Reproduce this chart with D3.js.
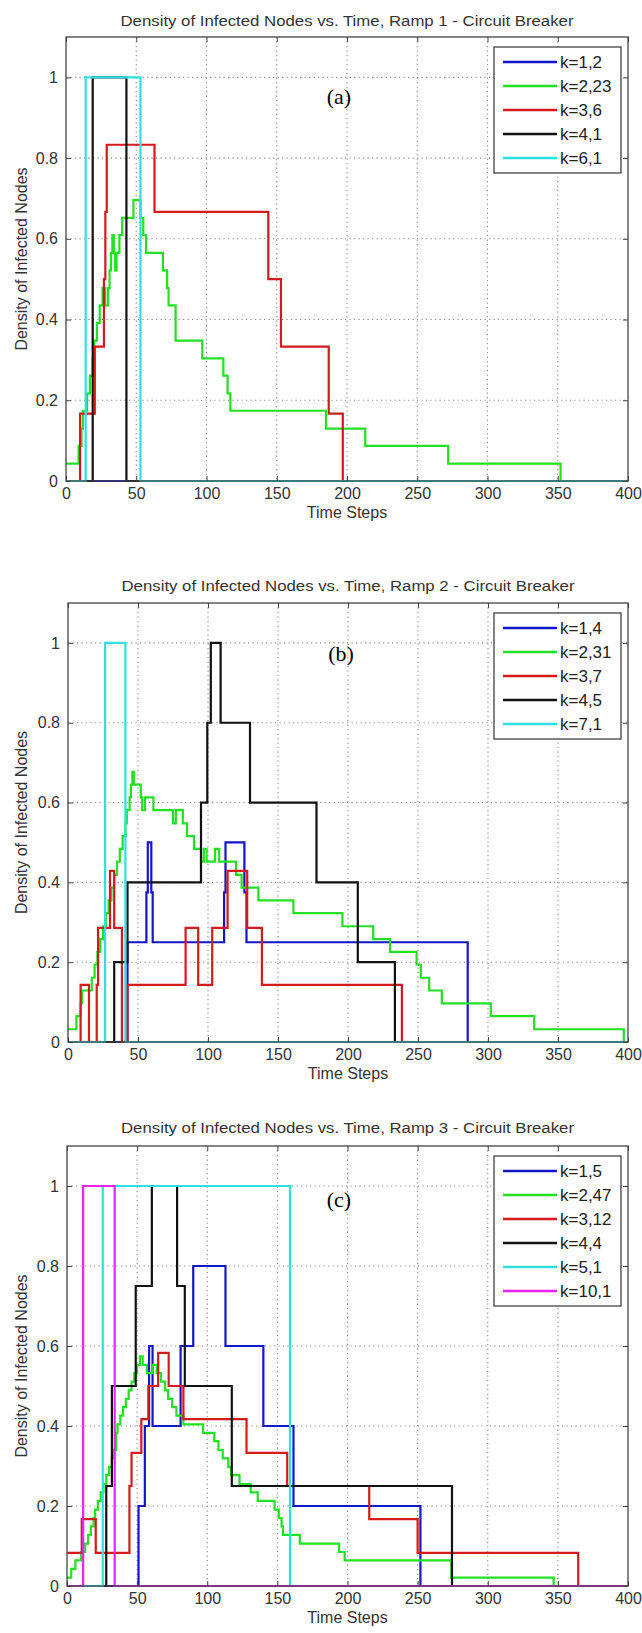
<!DOCTYPE html>
<html>
<head>
<meta charset="utf-8">
<script src="https://cdn.jsdelivr.net/npm/d3@7"></script>
<style>
	body { margin: 0; background: #fff; }
	svg { display: block; font-family: "Liberation Sans", Arial, sans-serif; }
</style>
</head>
<body>
<div id="figure"></div>
<script>
// ---- values: [time step, density] break points (value holds until next point) ----
const xTicks = [0, 50, 100, 150, 200, 250, 300, 350, 400];
const yTicks = [0, 0.2, 0.4, 0.6, 0.8, 1];

// Ramp 1
const ramp1Labels = ['k=1,2', 'k=2,23', 'k=3,6', 'k=4,1', 'k=6,1'];
const ramp1K1 = [[0, 0], [400, 0]];
const ramp1K2 = [[0, 0.043], [9, 0.087], [11, 0.13], [12, 0.174], [15, 0.217], [17, 0.261], [19, 0.304], [20, 0.348],
	[22, 0.391], [24, 0.435], [26, 0.478], [28, 0.435], [30, 0.478], [31, 0.522], [32, 0.565], [33, 0.609], [34, 0.565],
	[35, 0.522], [36, 0.565], [38, 0.609], [40, 0.652], [48, 0.696], [53, 0.652], [55, 0.609], [57, 0.565], [69, 0.522],
	[72, 0.478], [73, 0.435], [78, 0.348], [97, 0.304], [112, 0.261], [115, 0.217], [117, 0.174], [185, 0.13],
	[213, 0.087], [272, 0.043], [352, 0], [400, 0]];
const ramp1K3 = [[0, 0], [10, 0.167], [20.5, 0.333], [27, 0.5], [28, 0.667], [29, 0.833], [63, 0.667], [144, 0.5],
	[153, 0.333], [187, 0.167], [197, 0], [400, 0]];
const ramp1K4 = [[0, 0], [19, 1], [43, 0], [400, 0]];
const ramp1K6 = [[0, 0], [14, 1], [53, 0], [400, 0]];

// Ramp 2
const ramp2Labels = ['k=1,4', 'k=2,31', 'k=3,7', 'k=4,5', 'k=7,1'];
const ramp2K1 = [[0, 0], [42.5, 0.25], [56, 0.375], [57, 0.5], [59.5, 0.375], [60.5, 0.25], [111.5, 0.375], [112.5, 0.5],
	[126, 0.375], [127.5, 0.25], [285.5, 0], [400, 0]];
const ramp2K2 = [[0, 0.032], [6, 0.065], [9, 0.097], [10, 0.129], [17, 0.161], [19, 0.194], [21, 0.226], [23, 0.258],
	[25, 0.29], [27, 0.323], [29, 0.355], [31, 0.387], [33, 0.419], [35, 0.452], [37, 0.484], [39, 0.516], [41, 0.548],
	[42, 0.581], [44, 0.613], [45, 0.645], [46, 0.677], [47, 0.645], [52, 0.613], [53, 0.581], [55, 0.613], [61, 0.581],
	[75, 0.548], [77, 0.581], [82, 0.548], [85, 0.516], [90, 0.484], [95, 0.452], [97, 0.484], [99, 0.452], [105, 0.484],
	[108, 0.452], [120, 0.419], [124, 0.387], [136, 0.355], [161, 0.323], [196, 0.29], [218, 0.258], [230, 0.226],
	[249, 0.194], [252, 0.161], [258, 0.129], [267, 0.097], [302, 0.065], [333, 0.032], [397, 0], [400, 0]];
const ramp2K3 = [[0, 0], [9, 0.143], [15, 0], [20.5, 0.143], [21.5, 0.286], [30, 0.429], [33, 0.286], [38.5, 0],
	[42.5, 0.143], [84, 0.286], [93, 0.143], [103, 0.286], [114, 0.429], [128, 0.286], [138.5, 0.143], [238.5, 0], [400, 0]];
const ramp2K4 = [[0, 0], [33, 0.2], [42.5, 0.4], [95, 0.6], [99.5, 0.8], [102, 1], [109, 0.8], [130, 0.6], [177.5, 0.4],
	[207, 0.2], [233.5, 0], [400, 0]];
const ramp2K7 = [[0, 0], [26.5, 1], [41, 0], [400, 0]];

// Ramp 3
const ramp3Labels = ['k=1,5', 'k=2,47', 'k=3,12', 'k=4,4', 'k=5,1', 'k=10,1'];
const ramp3K1 = [[0, 0], [51, 0.2], [55.5, 0.4], [58.5, 0.6], [61, 0.4], [81, 0.6], [90, 0.8], [113, 0.6], [140, 0.4],
	[161.5, 0.2], [252, 0], [400, 0]];
const ramp3K2 = [[0, 0.021], [3, 0.043], [6, 0.064], [10, 0.085], [13, 0.106], [15, 0.128], [17, 0.149], [19, 0.17],
	[20, 0.191], [22, 0.213], [24, 0.234], [26, 0.255], [28, 0.277], [30, 0.298], [32, 0.319], [33, 0.34], [35, 0.383],
	[36, 0.404], [38, 0.426], [40, 0.447], [42, 0.468], [44, 0.489], [46, 0.511], [48, 0.532], [50, 0.553], [52, 0.574],
	[54, 0.553], [57, 0.532], [61, 0.553], [64, 0.532], [67, 0.511], [70, 0.489], [72, 0.468], [75, 0.447], [78, 0.426],
	[83, 0.404], [97, 0.383], [105, 0.362], [108, 0.34], [111, 0.319], [115, 0.298], [117, 0.277], [123, 0.255],
	[131, 0.234], [136, 0.213], [148, 0.191], [151, 0.17], [153, 0.149], [154, 0.128], [166, 0.106], [194, 0.085],
	[198, 0.064], [274, 0.021], [347, 0], [400, 0]];
const ramp3K3 = [[0, 0.083], [10.5, 0.167], [20.5, 0.083], [44.5, 0.25], [46, 0.333], [53, 0.417], [58, 0.5], [65, 0.583],
	[72.5, 0.5], [83, 0.417], [128, 0.333], [157, 0.25], [215.5, 0.167], [250, 0.083], [364.5, 0], [400, 0]];
const ramp3K4 = [[0, 0], [28, 0.25], [32, 0.5], [49, 0.75], [60.5, 1], [78.5, 0.75], [84, 0.5], [117.5, 0.25],
	[274.5, 0], [400, 0]];
const ramp3K5 = [[0, 0], [25.5, 1], [159, 0], [400, 0]];
const ramp3K10 = [[0, 0], [11.5, 1], [34, 0], [400, 0]];

const lineColors = ['#1414c8', '#22e022', '#d41a1a', '#111111', '#30e0e0', '#ee22ee'];


class DensityChart {

	constructor(_config, _series) {
		this.config = {
			parent: _config.parent,
			left: _config.left,
			right: _config.right || 628,
			top: _config.top,
			bottom: _config.bottom,
			titleY: _config.titleY,
			tagX: _config.tagX,
			tagY: _config.tagY
		}
		this.series = _series;
		this.labels = _config.labels;
		this.titleText = _config.chartTitle;
		this.tag = _config.tag;

		this.initVis();
	}

	initVis() {
		let vis = this;
		const c = vis.config;

		vis.chart = c.parent.append('g');

		vis.xScale = d3.scaleLinear()
			.domain([0, 400])
			.range([c.left, c.right]);

		// axis runs a little above 1
		vis.yScale = d3.scaleLinear()
			.domain([0, 1.1])
			.range([c.bottom, c.top]);

		// dotted grid
		const grid = vis.chart.append('g').attr('class', 'grid');
		grid.selectAll('.vgrid')
			.data(xTicks.slice(1, -1))
			.join('line')
			.attr('x1', d => vis.xScale(d)).attr('x2', d => vis.xScale(d))
			.attr('y1', c.top).attr('y2', c.bottom);
		grid.selectAll('.hgrid')
			.data(yTicks.slice(1))
			.join('line')
			.attr('y1', d => vis.yScale(d)).attr('y2', d => vis.yScale(d))
			.attr('x1', c.left).attr('x2', c.right);
		grid.selectAll('line')
			.attr('stroke', '#8c8c8c')
			.attr('stroke-width', 1.1)
			.attr('stroke-dasharray', '1.2,3.3');

		// chart title
		vis.chart.append('text')
			.attr('x', (c.left + c.right) / 2)
			.attr('y', c.titleY)
			.attr('text-anchor', 'middle')
			.attr('fill', '#333')
			.style('font-size', '15.5px')
			.attr('textLength', 453)
			.attr('lengthAdjust', 'spacingAndGlyphs')
			.text(vis.titleText);

		// X axis label
		vis.chart.append('text')
			.attr('x', (c.left + c.right) / 2)
			.attr('y', c.bottom + 37)
			.attr('text-anchor', 'middle')
			.attr('fill', '#333')
			.style('font-size', '16px')
			.text('Time Steps');

		// Y axis label
		vis.chart.append('text')
			.attr('transform', `translate(27, ${(c.top + c.bottom) / 2}) rotate(-90)`)
			.attr('text-anchor', 'middle')
			.attr('fill', '#333')
			.style('font-size', '16px')
			.text('Density of Infected Nodes');

		vis.updateVis();
	}

	updateVis() {
		let vis = this;
		const c = vis.config;

		const line = d3.line()
			.x(d => vis.xScale(d[0]))
			.y(d => vis.yScale(d[1]))
			.curve(d3.curveStepAfter);

		vis.chart.append('g')
			.selectAll('path')
			.data(vis.series)
			.join('path')
			.attr('fill', 'none')
			.attr('stroke', (d, i) => lineColors[i])
			.attr('stroke-width', 2.2)
			.attr('d', line);

		// panel tag (a), (b), (c)
		vis.chart.append('text')
			.attr('x', c.tagX)
			.attr('y', c.tagY)
			.attr('text-anchor', 'middle')
			.style('font-family', '"Liberation Serif", "Times New Roman", serif')
			.style('font-size', '22px')
			.text(vis.tag);

		// box + inward ticks like matlab
		const fmt = d3.format('~g');
		const axes = vis.chart.append('g').attr('class', 'axes');
		axes.append('g')
			.attr('transform', `translate(0, ${c.bottom})`)
			.call(d3.axisBottom(vis.xScale).tickValues(xTicks).tickSize(-5).tickPadding(7).tickFormat(fmt));
		axes.append('g')
			.attr('transform', `translate(0, ${c.top})`)
			.call(d3.axisTop(vis.xScale).tickValues(xTicks).tickSize(-5).tickFormat(''));
		axes.append('g')
			.attr('transform', `translate(${c.left}, 0)`)
			.call(d3.axisLeft(vis.yScale).tickValues(yTicks).tickSize(-5).tickPadding(8).tickFormat(fmt));
		axes.append('g')
			.attr('transform', `translate(${c.right}, 0)`)
			.call(d3.axisRight(vis.yScale).tickValues(yTicks).tickSize(-5).tickFormat(''));
		axes.selectAll('.domain').remove();
		axes.selectAll('.tick line').attr('stroke', '#444');
		axes.selectAll('.tick text')
			.attr('fill', '#333')
			.style('font-family', '"Liberation Sans", Arial, sans-serif')
			.style('font-size', '16px');

		vis.chart.append('rect')
			.attr('x', c.left)
			.attr('y', c.top)
			.attr('width', c.right - c.left)
			.attr('height', c.bottom - c.top)
			.attr('fill', 'none')
			.attr('stroke', '#444')
			.attr('stroke-width', 1.3);

		// legend
		const legTop = c.top + 10;
		const legend = vis.chart.append('g');
		legend.append('rect')
			.attr('x', 494)
			.attr('y', legTop)
			.attr('width', 127)
			.attr('height', 30 + (vis.labels.length - 1) * 24)
			.attr('fill', '#fff')
			.attr('stroke', '#333')
			.attr('stroke-width', 1.2);
		const entries = legend.selectAll('.entry')
			.data(vis.labels)
			.join('g')
			.attr('transform', (d, i) => `translate(0, ${legTop + 15 + i * 24})`);
		entries.append('line')
			.attr('x1', 503).attr('x2', 557)
			.attr('stroke', (d, i) => lineColors[i])
			.attr('stroke-width', 2.4);
		entries.append('text')
			.attr('x', 560)
			.attr('y', 6)
			.attr('fill', '#222')
			.style('font-size', '17px')
			.text(d => d);
	}

}

const svg = d3.select('#figure').append('svg')
	.attr('width', 642)
	.attr('height', 1633);

new DensityChart({
	parent: svg, left: 66, top: 37, bottom: 481, titleY: 26, tagX: 339, tagY: 104,
	labels: ramp1Labels, tag: '(a)',
	chartTitle: 'Density of Infected Nodes vs. Time, Ramp 1 - Circuit Breaker'
}, [ramp1K1, ramp1K2, ramp1K3, ramp1K4, ramp1K6]);

new DensityChart({
	parent: svg, left: 68, top: 603, bottom: 1042, titleY: 591, tagX: 341, tagY: 661,
	labels: ramp2Labels, tag: '(b)',
	chartTitle: 'Density of Infected Nodes vs. Time, Ramp 2 - Circuit Breaker'
}, [ramp2K1, ramp2K2, ramp2K3, ramp2K4, ramp2K7]);

new DensityChart({
	parent: svg, left: 67, top: 1146, bottom: 1586, titleY: 1133, tagX: 339, tagY: 1207,
	labels: ramp3Labels, tag: '(c)',
	chartTitle: 'Density of Infected Nodes vs. Time, Ramp 3 - Circuit Breaker'
}, [ramp3K1, ramp3K2, ramp3K3, ramp3K4, ramp3K5, ramp3K10]);
</script>
</body>
</html>
